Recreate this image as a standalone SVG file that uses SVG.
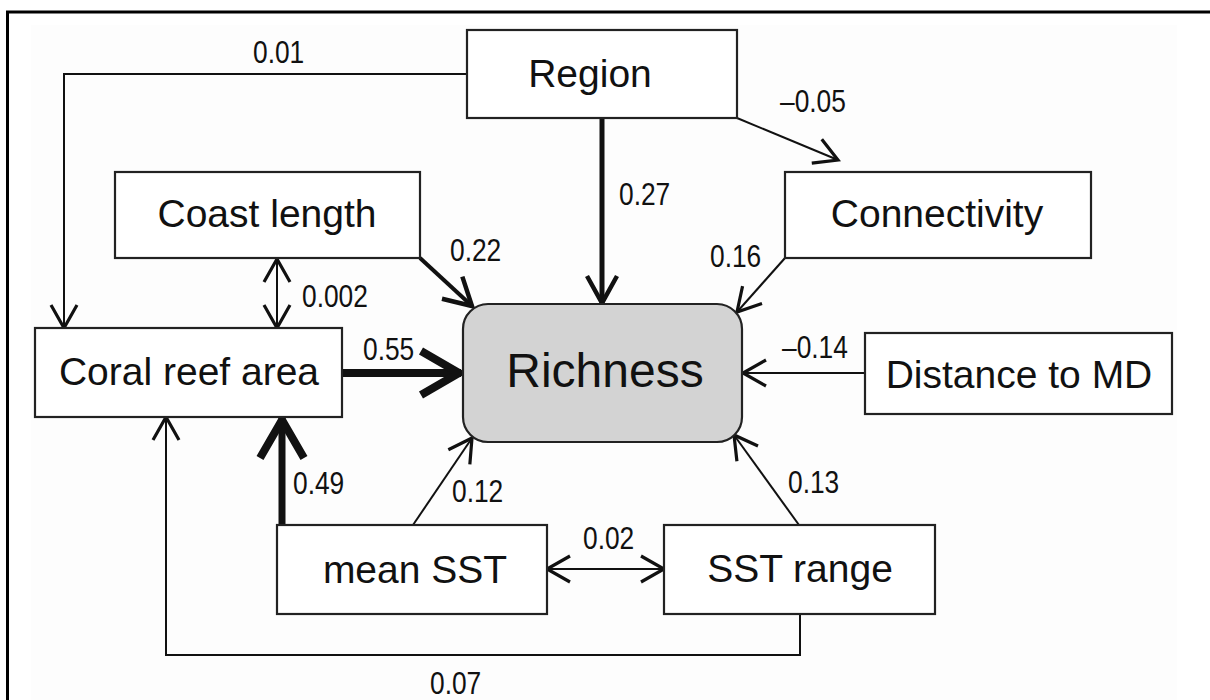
<svg xmlns="http://www.w3.org/2000/svg" width="1210" height="700" viewBox="0 0 1210 700">
<defs>
<style>
.box{fill:#fff;stroke:#222;stroke-width:2.2}
.lbl{font-family:"Liberation Sans",Arial,sans-serif;font-size:39px;fill:#111;text-anchor:middle}
.num{font-family:"Liberation Sans",Arial,sans-serif;font-size:31px;fill:#111}
.c{fill:none;stroke:#111;stroke-linejoin:miter}
.thin{stroke-width:2;marker-end:url(#a1)}
</style>
<marker id="a1" markerUnits="userSpaceOnUse" markerWidth="80" markerHeight="80" viewBox="-40 -40 80 80" refX="0" refY="0" orient="auto-start-reverse" overflow="visible">
<path d="M-23,-13 L0,0 L-23,13" fill="none" stroke="#111" stroke-width="3.2"/>
</marker>
<marker id="aM" markerUnits="userSpaceOnUse" markerWidth="80" markerHeight="80" viewBox="-40 -40 80 80" refX="0" refY="0" orient="auto" overflow="visible">
<path d="M-27,-15 L0,0 L-27,15" fill="none" stroke="#111" stroke-width="4.5"/>
</marker>
<marker id="aL" markerUnits="userSpaceOnUse" markerWidth="100" markerHeight="100" viewBox="-50 -50 100 100" refX="0" refY="0" orient="auto" overflow="visible">
<path d="M-40,-22 L-2,0 L-40,22" fill="none" stroke="#111" stroke-width="8"/>
</marker>
</defs>
<rect x="0" y="0" width="1210" height="700" fill="#fff"/>
<rect x="31" y="25" width="1146" height="680" fill="#fdfdfd"/>
<rect x="7.5" y="12" width="1215" height="700" fill="none" stroke="#000" stroke-width="3"/>

<g id="connectors">
<path class="c thin" d="M467,74 H64 V328"/>
<path class="c" d="M602,118 V303" stroke-width="5" marker-end="url(#aM)"/>
<path class="c thin" d="M737,118 L838,160"/>
<path class="c" d="M420,258 L472,306" stroke-width="4" marker-end="url(#aM)"/>
<path class="c thin" d="M785,258 L737,312"/>
<path class="c thin" d="M277,259 V328" marker-start="url(#a1)"/>
<path class="c" d="M342,373 H461" stroke-width="8" marker-end="url(#aL)"/>
<path class="c thin" d="M865,373 H743"/>
<path class="c" d="M282,525 V418" stroke-width="7" marker-end="url(#aL)"/>
<path class="c thin" d="M413,525 L472,438"/>
<path class="c thin" d="M799,525 L734,435"/>
<path class="c thin" d="M547,569 H664" marker-start="url(#a1)"/>
<path class="c thin" d="M800,614 V655 H166 V417"/>
<g class="num">
<text transform="translate(253,63) scale(0.85,1)">0.01</text>
<text transform="translate(780,112) scale(0.85,1)">–0.05</text>
<text transform="translate(619,205) scale(0.85,1)">0.27</text>
<text transform="translate(450,261) scale(0.85,1)">0.22</text>
<text transform="translate(710,267) scale(0.85,1)">0.16</text>
<text transform="translate(302,307) scale(0.85,1)">0.002</text>
<text transform="translate(363,360) scale(0.85,1)">0.55</text>
<text transform="translate(782,358) scale(0.85,1)">–0.14</text>
<text transform="translate(293,494) scale(0.85,1)">0.49</text>
<text transform="translate(452,502) scale(0.85,1)">0.12</text>
<text transform="translate(788,493) scale(0.85,1)">0.13</text>
<text transform="translate(583,549) scale(0.85,1)">0.02</text>
<text transform="translate(430,694) scale(0.85,1)">0.07</text>
</g>
</g>

<g id="region"><rect class="box" x="467" y="30" width="270" height="88"/><text class="lbl" x="590" y="87">Region</text></g>
<g id="coast-length"><rect class="box" x="115" y="172" width="305" height="86"/><text class="lbl" x="267" y="227">Coast length</text></g>
<g id="connectivity"><rect class="box" x="785" y="172" width="306" height="86"/><text class="lbl" x="937" y="227">Connectivity</text></g>
<g id="coral-reef-area"><rect class="box" x="35" y="328" width="307" height="89"/><text class="lbl" x="189" y="385">Coral reef area</text></g>
<g id="richness"><rect x="463" y="304" width="279" height="138" rx="25" ry="25" fill="#d3d3d3" stroke="#222" stroke-width="2.2"/><text class="lbl" x="605" y="387" style="font-size:48px">Richness</text></g>
<g id="distance-to-md"><rect class="box" x="865" y="333" width="307" height="81"/><text class="lbl" x="1019" y="388">Distance to MD</text></g>
<g id="mean-sst"><rect class="box" x="277" y="525" width="270" height="89"/><text class="lbl" x="415" y="583">mean SST</text></g>
<g id="sst-range"><rect class="box" x="664" y="525" width="271" height="89"/><text class="lbl" x="800" y="582">SST range</text></g>
</svg>
